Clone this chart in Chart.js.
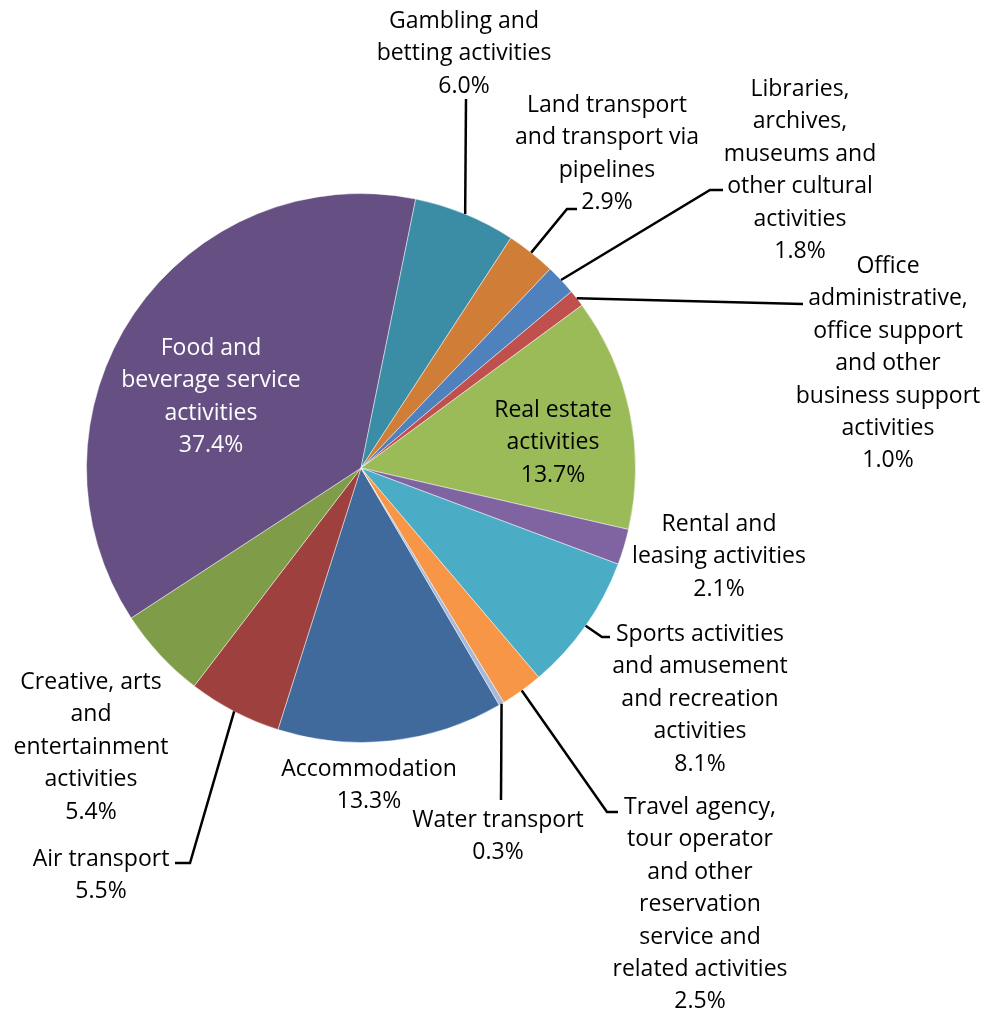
<!DOCTYPE html>
<html>
<head>
<meta charset="utf-8">
<script src="https://cdn.jsdelivr.net/npm/chart.js@4.4.1/dist/chart.umd.min.js"></script>
<style>
  html, body { margin: 0; padding: 0; background: #fff; }
  canvas { display: block; }
</style>
</head>
<body>
<canvas id="pie" width="984" height="1013"></canvas>
<script>
// Shares by activity, in the order the slices run clockwise
const categories = [
    'Accommodation',
    'Air transport',
    'Creative, arts and entertainment activities',
    'Food and beverage service activities',
    'Gambling and betting activities',
    'Land transport and transport via pipelines',
    'Libraries, archives, museums and other cultural activities',
    'Office administrative, office support and other business support activities',
    'Real estate activities',
    'Rental and leasing activities',
    'Sports activities and amusement and recreation activities',
    'Travel agency, tour operator and other reservation service and related activities',
    'Water transport'
];
const shares = [13.3, 5.5, 5.4, 37.4, 6.0, 2.9, 1.8, 1.0, 13.7, 2.1, 8.1, 2.5, 0.3];

// how each category name wraps in its label
const labelLines = [
    ['Accommodation'],
    ['Air transport'],
    ['Creative, arts', 'and', 'entertainment', 'activities'],
    ['Food and', 'beverage service', 'activities'],
    ['Gambling and', 'betting activities'],
    ['Land transport', 'and transport via', 'pipelines'],
    ['Libraries,', 'archives,', 'museums and', 'other cultural', 'activities'],
    ['Office', 'administrative,', 'office support', 'and other', 'business support', 'activities'],
    ['Real estate', 'activities'],
    ['Rental and', 'leasing activities'],
    ['Sports activities', 'and amusement', 'and recreation', 'activities'],
    ['Travel agency,', 'tour operator', 'and other', 'reservation', 'service and', 'related activities'],
    ['Water transport']
];

const sliceColors = [
    '#3f6a9b', '#9e403d', '#7f9c48', '#664f82', '#3b8da5', '#d07d38',
    '#4f81bd', '#c0504d', '#9bbb59', '#8064a2', '#4bacc6', '#f79646', '#a7b8d9'
];

// label boxes: centre x, first line y, leader bends (the leader starts on the slice edge)
const labelSpots = [
    {x: 369, y: 768},
    {x: 101, y: 858, leader: [[190, 863], [175, 863]]},
    {x: 91, y: 681},
    {x: 211, y: 347, color: '#fff'},
    {x: 464, y: 20, leader: [[466, 99]]},
    {x: 607, y: 104, leader: [[567, 209], [577, 209]]},
    {x: 800, y: 88, leader: [[710, 190], [723, 190]]},
    {x: 888, y: 265, leader: [[803, 304]]},
    {x: 553, y: 409},
    {x: 719, y: 523},
    {x: 700, y: 633, leader: [[602, 637], [610, 637]]},
    {x: 700, y: 806, leader: [[607, 812], [618, 812]]},
    {x: 498, y: 819, leader: [[501, 800]]}
];

const LINE_GAP = 32.4;
const TEXT_SHIFT = 1.5;
const FONT = '23px "Open Sans", Lato, sans-serif';

const sliceLabels = {
    id: 'sliceLabels',
    afterDatasetsDraw(chart) {
        const ctx = chart.ctx;
        const arcs = chart.getDatasetMeta(0).data;
        ctx.save();

        // leader lines first so the text sits on top
        ctx.strokeStyle = '#000';
        ctx.lineWidth = 2.5;
        ctx.lineJoin = 'miter';
        arcs.forEach((arc, i) => {
            const spot = labelSpots[i];
            if (!spot.leader) return;
            const mid = (arc.startAngle + arc.endAngle) / 2;
            ctx.beginPath();
            ctx.moveTo(arc.x + Math.cos(mid) * arc.outerRadius, arc.y + Math.sin(mid) * arc.outerRadius);
            spot.leader.forEach(p => ctx.lineTo(p[0], p[1]));
            ctx.stroke();
        });

        ctx.font = FONT;
        ctx.textAlign = 'center';
        ctx.textBaseline = 'middle';
        arcs.forEach((arc, i) => {
            const spot = labelSpots[i];
            const lines = labelLines[i].concat(shares[i].toFixed(1) + '%');
            ctx.fillStyle = spot.color || '#000';
            lines.forEach((txt, k) => ctx.fillText(txt, spot.x, spot.y + TEXT_SHIFT + k * LINE_GAP));
        });
        ctx.restore();
    }
};

new Chart(document.getElementById('pie'), {
    type: 'pie',
    data: {
        labels: categories,
        datasets: [{
            data: shares,
            backgroundColor: sliceColors,
            borderColor: 'rgba(255,255,255,0.45)',
            borderWidth: 1
        }]
    },
    options: {
        responsive: false,
        animation: false,
        rotation: 149.74,
        layout: {padding: {left: 86, right: 348, top: 193, bottom: 270}},
        plugins: {
            legend: {display: false},
            tooltip: {enabled: false}
        }
    },
    plugins: [sliceLabels]
});
</script>
</body>
</html>
